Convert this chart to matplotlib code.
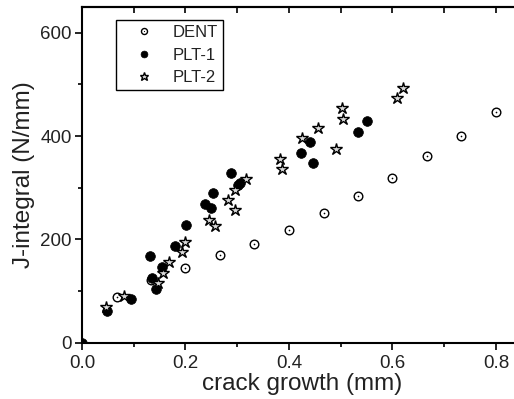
import numpy as np
import matplotlib
matplotlib.use("Agg")
import matplotlib.pyplot as plt
from matplotlib.ticker import MultipleLocator

plt.rcParams['font.family'] = ['Liberation Sans', 'DejaVu Sans']

# DENT (open circles with centre dot)
dent_x = [0.067, 0.133, 0.200, 0.267, 0.333, 0.400, 0.467, 0.533, 0.600, 0.667, 0.733, 0.800]
dent_y = [89, 121, 144, 170, 192, 218, 252, 284, 319, 361, 401, 446]

# PLT-1 (filled circles)
plt1_x = [0.0, 0.048, 0.095, 0.131, 0.136, 0.143, 0.155, 0.179, 0.201, 0.238, 0.249,
          0.254, 0.287, 0.301, 0.306, 0.424, 0.440, 0.447, 0.534, 0.550]
plt1_y = [0, 61, 84, 168, 126, 104, 147, 188, 228, 268, 261,
          289, 328, 306, 310, 368, 388, 348, 408, 429]

# PLT-2 (stars)
plt2_x = [0.046, 0.081, 0.146, 0.157, 0.169, 0.193, 0.200, 0.246, 0.257, 0.283, 0.296,
          0.296, 0.316, 0.383, 0.386, 0.426, 0.456, 0.491, 0.502, 0.504, 0.608, 0.621]
plt2_y = [70, 90, 115, 134, 156, 176, 195, 237, 226, 276, 257,
          295, 317, 355, 336, 397, 415, 375, 455, 434, 474, 494]

txt = '#222222'

fig = plt.figure(figsize=(5.14, 3.99), dpi=100)
ax = fig.add_axes([0.1595, 0.1411, 0.8558, 0.8414])

h_dent, = ax.plot(dent_x, dent_y, linestyle='none', marker='o', ms=6.2,
                  mfc='white', mec='black', mew=1.0)
h_dot, = ax.plot(dent_x, dent_y, linestyle='none', marker='o', ms=1.2,
                 mfc='black', mec='black', mew=0)
h_p1, = ax.plot(plt1_x, plt1_y, linestyle='none', marker='o', ms=7.0,
                mfc='black', mec='black', mew=0.5)
h_p2, = ax.plot(plt2_x, plt2_y, linestyle='none', marker='*', ms=9.0,
                mfc='#d8d8d8', mec='black', mew=1.0)

ax.set_xlim(0, 0.85)
ax.set_ylim(0, 650)

ax.xaxis.set_major_locator(MultipleLocator(0.2))
ax.xaxis.set_minor_locator(MultipleLocator(0.1))
ax.yaxis.set_major_locator(MultipleLocator(200))
ax.yaxis.set_minor_locator(MultipleLocator(100))
ax.xaxis.set_major_formatter(matplotlib.ticker.FormatStrFormatter('%.1f'))

for s in ax.spines.values():
    s.set_linewidth(1.5)
ax.spines['right'].set_visible(False)

ax.tick_params(axis='both', which='major', direction='out', length=5, width=1.2,
               labelsize=13.5, labelcolor=txt, pad=2.5)
ax.tick_params(axis='both', which='minor', direction='out', length=3, width=1.2)
ax.tick_params(axis='x', which='major', pad=3.5)

# top ticks point inward
top = ax.secondary_xaxis('top')
top.xaxis.set_major_locator(MultipleLocator(0.1))
top.tick_params(axis='x', which='major', direction='in', length=4.5, width=1.2,
                labeltop=False)
top.tick_params(axis='x', which='minor', length=0)
top.spines['top'].set_linewidth(1.5)

ax.set_xlabel('crack growth (mm)', fontsize=17.5, color=txt, labelpad=1)
ax.set_ylabel('J-integral (N/mm)', fontsize=17.5, color=txt, labelpad=4)

leg = ax.legend([(h_dent, h_dot), h_p1, h_p2], ['DENT', 'PLT-1', 'PLT-2'],
                loc='upper left', bbox_to_anchor=(116 / 514, 1 - 20 / 399),
                bbox_transform=fig.transFigure, borderaxespad=0,
                fontsize=12, numpoints=1, markerscale=0.7, fancybox=False,
                edgecolor='black', framealpha=1, borderpad=0.3,
                handlelength=2.8, handletextpad=0.3, labelspacing=0.45)
leg.get_frame().set_linewidth(1.0)
for t in leg.get_texts():
    t.set_color(txt)

fig.savefig('out.png', dpi=100)
